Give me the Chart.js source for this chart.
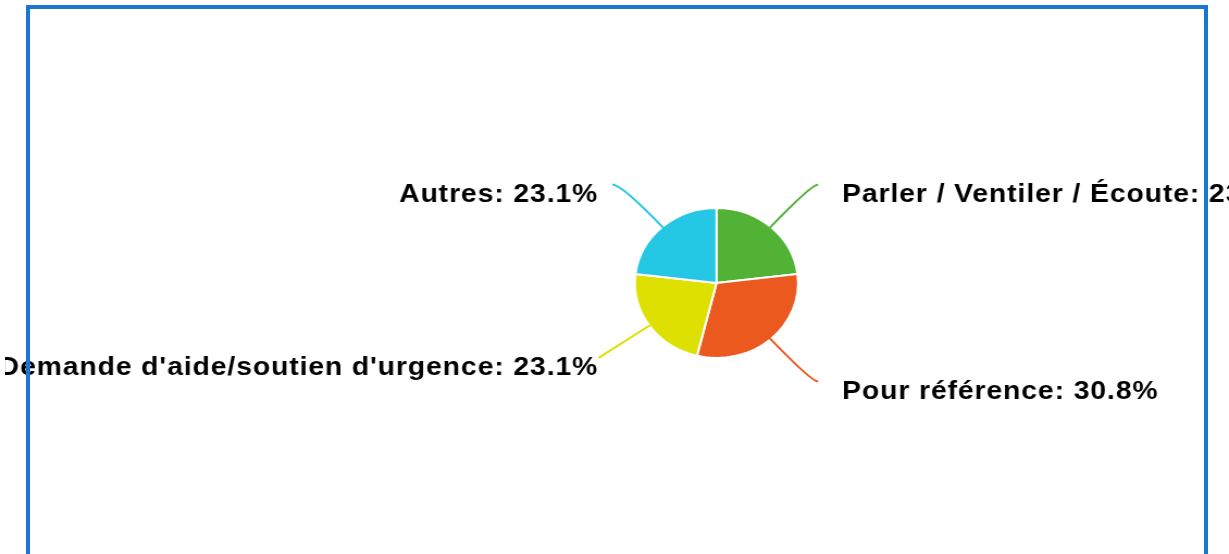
<!DOCTYPE html>
<html>
<head>
<meta charset="utf-8">
<script src="https://cdn.jsdelivr.net/npm/chart.js@4"></script>
<style>
  html, body { margin: 0; padding: 0; background: #fff; overflow: hidden; }
  #wrap { position: absolute; left: 0; top: 0; width: 1229px; height: 554px; clip-path: inset(0 0 0 5px); }
  #chart { position: absolute; left: 0; top: 0; transform: scaleX(1.0876); transform-origin: 0 0; }
  #frame { position: absolute; left: 26px; top: 5px; width: 1182px; height: 640px; box-sizing: border-box;
           border: 4px solid #1976d2; pointer-events: none; }
</style>
</head>
<body>
<div id="wrap"><canvas id="chart" width="1130" height="554"></canvas></div>
<div id="frame"></div>
<script>
// survey answers, clockwise from 12 o'clock
const categories = ["Parler / Ventiler / Écoute", "Pour référence", "Demande d'aide/soutien d'urgence", "Autres"];
const responses = [3, 4, 3, 3];
const sliceColors = ["#52b236", "#eb591e", "#dde000", "#24c8e4"];

const total = responses.reduce((a, b) => a + b, 0);
const percentLabels = responses.map(v => (v / total * 100).toFixed(1) + "%");

// leader lines + "name: pct" text beside each slice
const calloutLabels = {
    id: "calloutLabels",
    afterDatasetsDraw(chart) {
        const ctx = chart.ctx;
        const meta = chart.getDatasetMeta(0);
        ctx.save();
        ctx.font = 'bold 26px "Liberation Sans", Arial, sans-serif';
        ctx.letterSpacing = "0.85px";
        ctx.lineWidth = 2;
        meta.data.forEach((arc, i) => {
            const { x, y, startAngle, endAngle, outerRadius } =
                arc.getProps(["x", "y", "startAngle", "endAngle", "outerRadius"], true);
            const r = outerRadius - 1;
            const mid = (startAngle + endAngle) / 2;
            const dx = Math.cos(mid), dy = Math.sin(mid);
            const right = dx >= 0;

            const sx = x + dx * r, sy = y + dy * r;
            const kx = x + dx * r * 1.78, ky = y + dy * r * 1.78;
            const col = right ? x + r * 1.56 : x - r * 1.47;
            const ex = right ? Math.max(kx, col - 22) : Math.min(kx, col + 13);

            ctx.strokeStyle = sliceColors[i];
            ctx.beginPath();
            ctx.moveTo(sx, sy);
            ctx.quadraticCurveTo(kx, ky, ex, ky);
            ctx.stroke();

            ctx.fillStyle = "#000";
            ctx.textAlign = right ? "left" : "right";
            ctx.textBaseline = "alphabetic";
            ctx.fillText(categories[i] + ": " + percentLabels[i], col, ky + 17.5);
        });
        ctx.restore();
    }
};

new Chart(document.getElementById("chart"), {
    type: "pie",
    data: {
        labels: categories,
        datasets: [{
            data: responses,
            backgroundColor: sliceColors,
            borderColor: "#ffffff",
            borderWidth: 2
        }]
    },
    options: {
        responsive: false,
        animation: false,
        radius: 75,
        layout: { padding: { left: 500, right: 312.4, top: 183, bottom: 171 } },
        plugins: {
            legend: { display: false },
            tooltip: { enabled: false }
        }
    },
    plugins: [calloutLabels]
});
</script>
</body>
</html>
